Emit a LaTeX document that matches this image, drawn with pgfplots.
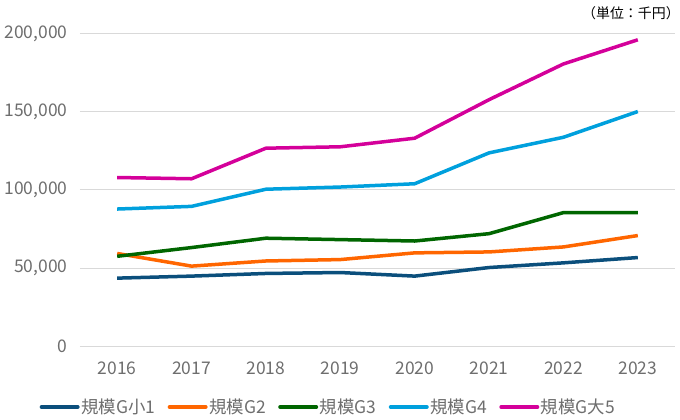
\documentclass[border=0pt]{standalone}
\usepackage{pgfplots}
\pgfplotsset{compat=1.18}
\usepackage{fontspec}
\setmainfont{Noto Sans CJK JP}

\definecolor{gSmall}{HTML}{0B4F7C}
\definecolor{gTwo}{HTML}{FF6600}
\definecolor{gThree}{HTML}{006600}
\definecolor{gFour}{HTML}{00A0DD}
\definecolor{gBig}{HTML}{D4009A}
\definecolor{tickgray}{HTML}{6E6E6E}
\definecolor{gridgray}{HTML}{D9D9D9}

\begin{document}
\begin{tikzpicture}
\path[use as bounding box] (-80bp,-74bp) rectangle (600bp,346bp);
\begin{axis}[
    scale only axis,
    width=595bp, height=312bp,
    at={(0,0)}, anchor=south west,
    xmin=-0.5, xmax=7.5,
    ymin=0, ymax=200000,
    xtick={0,...,7},
    xticklabels={2016,2017,2018,2019,2020,2021,2022,2023},
    ytick={0,50000,100000,150000,200000},
    yticklabels={0,{50,000},{100,000},{150,000},{200,000}},
    scaled y ticks=false,
    axis line style={draw=none},
    major tick length=0pt,
    ymajorgrids=true,
    grid style={gridgray, line width=1bp},
    tick label style={font=\fontsize{17.5}{20}\selectfont, text=tickgray},
    yticklabel style={xshift=-9bp},
    xticklabel style={yshift=-12bp},
    legend style={at={(0.4168,-0.1955)}, anchor=center, draw=none,
        font=\fontsize{17.5}{20}\selectfont, text=tickgray,
        inner sep=0pt,
        nodes={inner sep=1.5bp},
        legend columns=5, /tikz/every even column/.append style={column sep=11bp}},
    legend image code/.code={\draw[#1, line width=4bp, line cap=round] (0bp,0bp) -- (36bp,0bp);},
    every axis plot/.append style={line width=3.5bp, line join=round},
    clip=false,
]
\addplot[gSmall] coordinates {(0,43500)(1,44800)(2,46500)(3,47100)(4,44800)(5,50300)(6,53300)(7,56700)};
\addlegendentry{規模G小1}
\addplot[gTwo] coordinates {(0,59300)(1,51200)(2,54500)(3,55400)(4,59700)(5,60300)(6,63500)(7,70800)};
\addlegendentry{規模G2}
\addplot[gThree] coordinates {(0,57500)(1,63100)(2,69100)(3,68200)(4,67300)(5,72000)(6,85500)(7,85500)};
\addlegendentry{規模G3}
\addplot[gFour] coordinates {(0,87800)(1,89500)(2,100500)(3,101900)(4,104000)(5,123800)(6,133800)(7,150300)};
\addlegendentry{規模G4}
\addplot[gBig] coordinates {(0,108000)(1,107200)(2,126800)(3,127700)(4,133200)(5,157900)(6,180800)(7,196300)};
\addlegendentry{規模G大5}
\node[font=\fontsize{14}{16}\selectfont, text=black] at (rel axis cs:0.926,1.067) {（単位：千円）};
\end{axis}
\end{tikzpicture}
\end{document}
